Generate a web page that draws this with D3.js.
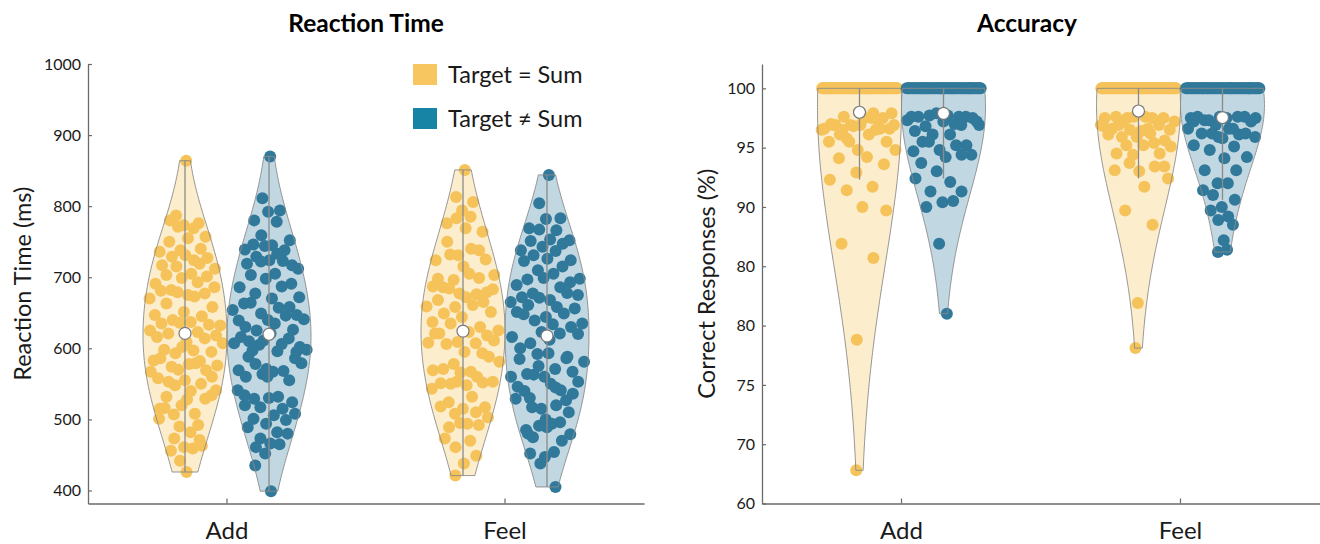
<!DOCTYPE html>
<html>
<head>
<meta charset="utf-8">
<script src="https://cdn.jsdelivr.net/npm/d3@7"></script>
<style>
  body { margin: 0; background: #fff; }
  svg { display: block; font-family: Lato, "Open Sans", "DejaVu Sans", sans-serif; }
</style>
</head>
<body>
<svg width="1320" height="544"></svg>
<script>
// categories and groups
const conditions = ["Add", "Feel"];
const groups = ["Target = Sum", "Target \u2260 Sum"];
const dotColors = ["#f5c35a", "#31799b"];
const legendColors = ["#f8c660", "#1784a6"];

// axis ticks
const rtTicks = [400, 500, 600, 700, 800, 900, 1000];
const accTickValues = [65, 70, 75, 80, 85, 90, 95, 100];
const accTickLabels = ["60", "70", "75", "80", "80", "90", "95", "100"];

// reaction time (ms), one value per participant
const rtAddEq = [864, 787, 776, 773, 780, 769, 771, 757, 755, 750, 740, 738, 736, 724, 729, 727, 731, 717, 719, 715,
  712, 705, 703, 701, 699, 691, 693, 682, 686, 675, 681, 677, 679, 670, 673, 663, 658, 651, 647, 645,
  640, 632, 637, 635, 633, 636, 625, 623, 621, 618, 609, 616, 614, 593, 607, 597, 598, 595, 602, 583,
  582, 574, 576, 578, 586, 569, 570, 567, 579, 553, 560, 555, 558, 550, 548, 541, 540, 532, 529, 520,
  515, 508, 507, 534, 528, 516, 492, 490, 501, 482, 473, 471, 461, 456, 459, 442, 463, 426];
const rtAddNeq = [870, 811, 794, 792, 780, 778, 759, 752, 745, 746, 738, 744, 739, 733, 729, 717, 724, 719, 723, 722,
  712, 705, 703, 691, 698, 686, 687, 677, 672, 670, 663, 658, 649, 654, 657, 664, 647, 640, 639, 646,
  625, 641, 635, 630, 626, 611, 607, 606, 597, 602, 621, 616, 614, 605, 598, 596, 588, 586, 571, 569,
  568, 578, 579, 567, 560, 555, 564, 541, 532, 529, 524, 530, 534, 515, 517, 508, 506, 501, 499, 494,
  489, 482, 473, 480, 466, 461, 465, 452, 435, 399, 610, 595, 560, 520];
const rtFeelEq = [851, 813, 806, 794, 776, 785, 783, 764, 769, 750, 738, 731, 724, 740, 732, 725, 715, 698, 699, 696,
  703, 705, 686, 679, 677, 687, 676, 684, 683, 672, 668, 665, 658, 659, 661, 649, 651, 644, 637, 630,
  635, 625, 623, 621, 618, 609, 608, 607, 606, 611, 595, 621, 593, 578, 581, 567, 571, 588, 566, 569,
  560, 550, 553, 548, 551, 552, 553, 543, 532, 524, 517, 515, 518, 510, 508, 503, 494, 489, 492, 495,
  473, 470, 461, 449, 438, 421];
const rtFeelNeq = [844, 804, 783, 782, 769, 766, 767, 752, 753, 751, 747, 743, 738, 737, 731, 724, 726, 723, 715, 710,
  698, 705, 697, 693, 699, 689, 686, 677, 675, 668, 672, 678, 671, 665, 658, 661, 656, 644, 651, 649,
  639, 635, 634, 648, 630, 623, 616, 621, 607, 620, 593, 585, 586, 592, 581, 571, 564, 567, 560, 546,
  541, 563, 553, 550, 540, 527, 515, 529, 520, 517, 536, 489, 480, 496, 491, 479, 494, 475, 470, 447,
  452, 454, 438, 405, 612, 600, 588, 575, 560, 545, 530, 510, 500, 485];

// accuracy (% correct), one value per participant
const accAddEq = [100, 100, 100, 100, 100, 100, 100, 100, 100, 100,
  100, 100, 100, 100, 100, 100, 100, 100, 100, 100,
  100, 100, 100, 100, 100, 100, 100, 100, 100, 100,
  100, 100, 100, 100, 100, 100, 100, 100, 100, 100,
  100, 100, 100, 100, 100, 100, 100, 100, 100, 100,
  100, 100, 100, 100, 100, 100, 100, 100, 100, 100,
  100, 100, 100, 100, 100, 100, 100, 100, 100, 100,
  100, 100, 100, 100, 100, 100, 100, 100, 100, 100, 100,
  97.9, 97.6, 97.9, 97.7, 96.9, 96.6, 96.9, 96.5, 96.1, 96.1, 95.5, 94.8, 95.5, 96.5, 95.8, 96.9, 97.5, 96.9,
  97.5, 96.8, 96.6, 97.5, 96.5, 96.6, 96.9, 97.0, 97.2, 95.5, 94.8, 94.2, 94.1, 93.6, 92.9, 92.3, 91.7, 91.4,
  89.7, 90.0, 86.9, 85.7, 78.8, 67.8];
const accAddNeq = [100, 100, 100, 100, 100, 100, 100, 100, 100, 100,
  100, 100, 100, 100, 100, 100, 100, 100, 100, 100,
  100, 100, 100, 100, 100, 100, 100, 100, 100, 100,
  100, 100, 100, 100, 100, 100, 100, 100, 100, 100,
  100, 100, 100, 100, 100, 100, 100, 100, 100, 100,
  100, 100, 100, 100, 100, 100, 100, 100, 100,
  97.6, 97.6, 97.7, 97.2, 97.7, 97.6, 97.6, 97.9, 97.3, 97.0, 96.8, 97.5, 97.2, 96.4, 96.9, 96.1, 96.9, 96.1,
  95.5, 95.2, 94.8, 94.7, 95.2, 95.5, 94.4, 94.2, 93.7, 94.4, 93.0, 92.4, 92.1, 91.3, 91.3, 90.4, 90.0, 90.5,
  86.9, 81.0];
const accFeelEq = [100, 100, 100, 100, 100, 100, 100, 100, 100, 100,
  100, 100, 100, 100, 100, 100, 100, 100, 100, 100,
  100, 100, 100, 100, 100, 100, 100, 100, 100, 100,
  100, 100, 100, 100, 100, 100, 100, 100, 100, 100,
  100, 100, 100, 100, 100, 100, 100, 100, 100, 100,
  100, 100, 100, 100, 100, 100, 100, 100, 100, 100,
  100, 100, 100, 100, 100, 100, 100, 100, 100, 100,
  100, 100, 100, 100,
  97.5, 97.2, 97.6, 97.6, 97.5, 97.6, 97.5, 97.5, 97.2, 96.5, 96.4, 96.6, 96.9, 96.5, 96.9, 96.6, 96.9, 95.6,
  95.9, 96.1, 95.4, 95.2, 95.1, 95.2, 94.5, 94.5, 94.4, 96.8, 96.2, 95.9, 93.4, 93.0, 93.1, 93.4, 93.7, 92.4,
  91.7, 89.7, 88.5, 81.9, 78.1];
const accFeelNeq = [100, 100, 100, 100, 100, 100, 100, 100, 100, 100,
  100, 100, 100, 100, 100, 100, 100, 100, 100, 100,
  100, 100, 100, 100, 100, 100, 100, 100, 100, 100,
  100, 100, 100, 100, 100, 100, 100, 100, 100, 100,
  100, 100, 100, 100, 100, 100, 100, 100, 100, 100,
  100, 100, 100, 100, 100, 100, 100, 100,
  97.6, 97.5, 97.6, 97.3, 97.5, 97.5, 97.6, 97.6, 96.9, 96.6, 96.6, 97.3, 97.2, 95.8, 97.2, 96.1, 96.2, 95.9,
  96.6, 96.2, 96.2, 95.9, 95.2, 95.1, 94.8, 94.2, 94.1, 93.1, 93.1, 92.0, 91.4, 92.0, 91.0, 90.6, 90.0, 89.7,
  89.2, 88.9, 88.5, 87.2, 86.2, 86.4];

// kernel bandwidths of the violins
const rtBandwidth = [[70, 70], [70, 70]];
const accBandwidth = [[13, 7], [8.5, 5]];

const svg = d3.select("svg");
const yTop = 64, yBottom = 503.5;
const halfWidth = 42, dotR = 6;
const lineGray = "#8a8a8a", axisGray = "#6a6a6a", textCol = "#1a1a1a";

const panels = [
  { title: "Reaction Time", titleX: 366, ylabel: "Reaction Time (ms)", labelX: 31,
    left: 88, right: 644, domain: [381.7, 1000], ticks: rtTicks, tickLabels: rtTicks.map(String), tickFont: 16,
    data: [[rtAddEq, rtAddNeq], [rtFeelEq, rtFeelNeq]], bw: rtBandwidth, legend: true },
  { title: "Accuracy", titleX: 1027, ylabel: "Correct Responses (%)", labelX: 715,
    left: 762, right: 1320, domain: [65, 102.05], ticks: accTickValues, tickLabels: accTickLabels, tickFont: 16,
    data: [[accAddEq, accAddNeq], [accFeelEq, accFeelNeq]], bw: accBandwidth, legend: false }
];

// deterministic spread of dots across the violin width
const jitter = i => (((i + 1) * 0.6180339887) % 1) * 2 - 1;

function drawPanel(p) {
  const g = svg.append("g");
  const x = d3.scaleBand().domain(conditions).range([p.left, p.right]);
  const off = d3.scalePoint().domain(groups).range([-halfWidth, halfWidth]);
  const y = d3.scaleLinear().domain(p.domain).range([yBottom, yTop]);

  // violins
  conditions.forEach((c, ci) => {
    groups.forEach((gr, gi) => {
      const vals = p.data[ci][gi];
      const bw = p.bw[ci][gi];
      const cx = x(c) + x.bandwidth() / 2 + off(gr);
      const lo = d3.min(vals), hi = d3.max(vals);
      const dens = v => d3.sum(vals, d => Math.exp(-0.5 * ((v - d) / bw) ** 2));
      const grid = d3.range(0, 121).map(i => lo + (hi - lo) * i / 120);
      const w = d3.scaleLinear().domain([0, d3.max(grid, dens)]).range([0, halfWidth]);
      const area = d3.area().y(v => y(v)).x0(v => cx - w(dens(v))).x1(v => cx + w(dens(v)));

      g.append("path").attr("d", area(grid))
        .attr("fill", dotColors[gi]).attr("fill-opacity", 0.3).attr("stroke", "none");

      g.append("g").selectAll("circle").data(vals).join("circle")
        .attr("cx", (d, i) => cx + jitter(i) * w(dens(d)) * 0.92)
        .attr("cy", d => y(d))
        .attr("r", dotR)
        .attr("fill", dotColors[gi]);

      g.append("path").attr("d", area(grid))
        .attr("fill", "none").attr("stroke", lineGray).attr("stroke-width", 0.9);

      // whisker (1.5 IQR) and mean
      const s = vals.slice().sort(d3.ascending);
      const q1 = d3.quantileSorted(s, 0.25), q3 = d3.quantileSorted(s, 0.75), iqr = q3 - q1;
      const wLo = d3.min(s.filter(v => v >= q1 - 1.5 * iqr));
      const wHi = d3.max(s.filter(v => v <= q3 + 1.5 * iqr));
      g.append("line").attr("x1", cx).attr("x2", cx).attr("y1", y(wLo)).attr("y2", y(wHi))
        .attr("stroke", lineGray).attr("stroke-width", 1.3);
      g.append("circle").attr("cx", cx).attr("cy", y(d3.mean(vals))).attr("r", 6)
        .attr("fill", "#fff").attr("stroke", "#7a7a7a").attr("stroke-width", 1.2);
    });
  });

  // axes
  const yAxis = g.append("g").attr("transform", `translate(${p.left},0)`)
    .call(d3.axisLeft(y).tickValues(p.ticks).tickFormat((d, i) => p.tickLabels[i])
      .tickSizeInner(-4).tickSizeOuter(0).tickPadding(7));
  const xAxis = g.append("g").attr("transform", `translate(0,${yBottom})`)
    .call(d3.axisBottom(x).tickSizeInner(-5).tickSizeOuter(0).tickPadding(18));
  [yAxis, xAxis].forEach(a => {
    a.select(".domain").attr("stroke", axisGray).attr("stroke-width", 1.3);
    a.selectAll(".tick line").attr("stroke", axisGray).attr("stroke-width", 1.2);
    a.selectAll("text").attr("fill", textCol).attr("font-family", "Lato, sans-serif");
  });
  yAxis.selectAll("text").attr("font-size", p.tickFont);
  xAxis.selectAll("text").attr("font-size", 24);

  g.append("text").attr("x", p.titleX).attr("y", 32).attr("text-anchor", "middle")
    .attr("font-size", 24.5).attr("font-weight", 700).attr("fill", "#000").text(p.title);
  g.append("text").attr("transform", `translate(${p.labelX},${(yTop + yBottom) / 2}) rotate(-90)`)
    .attr("text-anchor", "middle").attr("font-size", 23.5).attr("fill", textCol).text(p.ylabel);

  if (p.legend) {
    const lg = g.append("g").attr("transform", "translate(413,64)");
    groups.forEach((gr, gi) => {
      lg.append("rect").attr("x", 0).attr("y", gi * 44).attr("width", 24).attr("height", 21)
        .attr("fill", legendColors[gi]);
      lg.append("text").attr("x", 35).attr("y", gi * 44 + 19).attr("font-size", 23.5)
        .attr("fill", textCol).text(gr);
    });
  }
}

panels.forEach(drawPanel);
</script>
</body>
</html>
